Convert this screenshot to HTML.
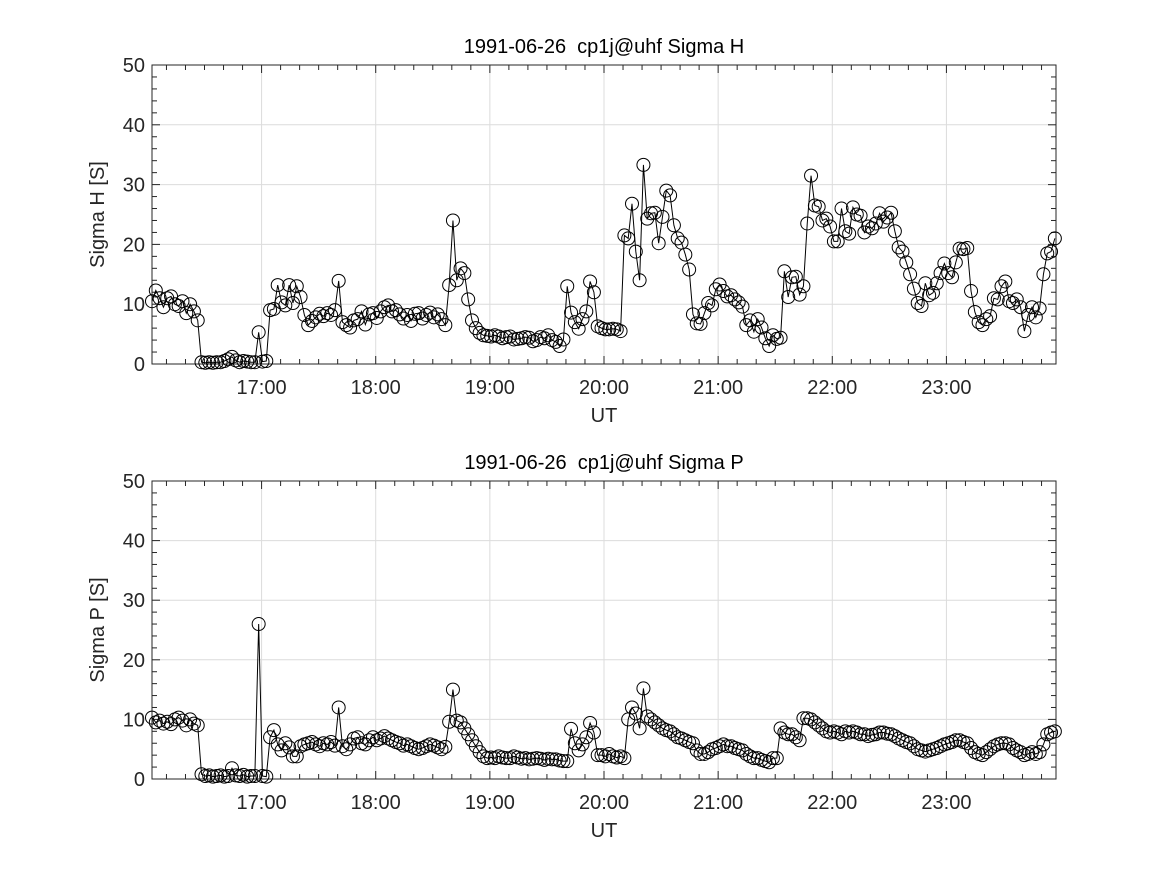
<!DOCTYPE html>
<html><head><meta charset="utf-8"><style>
body{margin:0;background:#fff;}
svg{display:block;font-family:"Liberation Sans",sans-serif;}
</style></head><body>
<svg id="chart" width="1167" height="875"></svg>
<script>
const hValues=[10.5,12.3,11,9.5,11,11.3,10,9.7,10.5,8.5,10,8.8,7.3,0.3,0.2,0.3,0.2,0.3,0.3,0.5,0.8,1.2,0.6,0.3,0.5,0.4,0.3,0.3,
5.3,0.4,0.5,9,9.2,13.2,10.3,9.8,13.2,10.2,13,11.2,8.2,6.5,7.2,7.8,8.4,8,8.5,8.2,9,13.9,7,6.5,6.1,7.3,7.5,8.8,6.6,8.3,
8.5,7.7,8.8,9.5,9.8,8.8,9,8.3,7.6,8.2,7.2,8.4,8.5,7.6,8.2,8.6,7.8,8.3,7.5,6.5,13.2,24,14,16,15.2,10.8,7.3,6,5.2,4.8,4.7,4.6,4.8,4.6,4.3,
4.5,4.6,4.1,4.2,4.3,4.5,4.4,3.8,4,4.5,4.3,4.8,4,3.7,3,4.1,13,8.6,7,5.9,7.5,8.8,13.8,12,6.3,6,5.8,
5.8,5.9,5.8,5.5,21.5,21,26.8,18.8,14,33.3,24.3,25.2,25.3,20.2,24.6,29,28.2,23.2,21,20.3,18.3,15.8,8.3,6.8,6.7,8.5,10.2,9.8,12.5,13.3,
12.2,11.3,11.5,10.8,10.3,9.6,6.5,7.3,5.4,7.5,6.1,4.3,3,4.8,4.2,4.4,15.5,11.2,14.5,14.6,11.6,13,23.5,31.5,26.5,26.3,24,24.3,23,
20.5,20.5,26,22.2,21.8,26.2,25,24.8,22,23,22.7,23.5,25.2,23.8,24.5,25.3,22.2,19.5,18.8,17,15,12.6,10.2,9.7,13.5,11.5,11.9,13.5,15.2,
16.8,15.2,14.5,17,19.3,19.2,19.4,12.2,8.7,7,6.5,7.5,8,11,10.8,13,13.8,10.5,10.2,10.8,9.5,5.5,8.2,9.5,7.8,9.3,15,18.5,18.8,21];
const pValues=[10.3,9.5,9.8,9.3,9.6,9.2,10,10.3,9.8,9,10,9.3,9,0.8,0.5,0.6,0.4,0.5,0.6,0.4,0.5,1.8,0.6,0.5,0.7,0.4,0.5,0.5,
26,0.5,0.4,7,8.2,5.8,4.8,6,5.3,3.8,3.8,5.5,5.8,6,6.2,5.8,5.5,6,5.8,6.2,5.6,12,5.5,5,5.8,6.8,7,6,5.8,6.5,7,
6.5,6.8,7.2,6.8,6.5,6.2,6,5.6,5.8,5.5,5.2,5,5.2,5.5,5.8,5.6,5.3,5.0,5.4,9.6,15,9.8,9.5,8.5,7.5,6.5,5.5,4.5,3.8,3.5,3.6,3.5,3.8,3.6,3.5,
3.5,3.8,3.6,3.4,3.5,3.3,3.4,3.5,3.4,3.2,3.4,3.3,3.3,3.1,3,3,8.4,6,4.8,5.8,7,9.4,7.8,4,4,3.8,4.2,3.8,3.6,
3.8,3.5,10,12,11,8.5,15.2,
10.5,10,9.5,9,8.5,8.2,8,7.5,7,6.8,6.5,6.2,6,4.8,4.2,4.2,4.5,5,5.2,5.5,5.8,5.5,5.5,5.2,5,4.8,4.2,3.8,3.5,3.5,3.2,3,2.8,3.5,3.5,
8.5,7.8,7.5,7.5,7,6.5,10.2,10.2,
10,9.5,9,8.5,8,7.8,8,7.8,7.5,8,7.8,8,7.8,7.5,7.5,7.2,7.4,7.5,7.8,7.8,7.6,7.5,7.2,6.8,6.5,6.2,6,5.5,5,4.8,4.6,4.8,5,5.2,5.5,5.8,6,6.2,6.5,6.5,6.2,6,5.2,4.5,4.2,4,4.5,5,5.5,5.8,6,6,5.8,5.2,4.8,4.5,4,4.2,4.5,4.2,4.5,5.8,7.5,7.8,8];
const startHour=16.04, endHour=23.95;
const xTickHours=[17,18,19,20,21,22,23];
const xTickLabels=["17:00","18:00","19:00","20:00","21:00","22:00","23:00"];
const yTicks=[0,10,20,30,40,50];

const NS="http://www.w3.org/2000/svg";
const svg=document.getElementById('chart');
const X0=152,X1=1056,XMIN=16.04,XMAX=23.96;
function xs(h){return X0+(h-XMIN)/(XMAX-XMIN)*(X1-X0);}
function mk(tag,attrs,parent){const e=document.createElementNS(NS,tag);for(const k in attrs)e.setAttribute(k,attrs[k]);(parent||svg).appendChild(e);return e;}

function panel(top,bottom,vals,title,ylab,key){
  const g=mk('g',{});
  
  
  const ys=v=>bottom-v/50*(bottom-top);
  xTickHours.forEach(h=>mk('line',{x1:xs(h),x2:xs(h),y1:top,y2:bottom,stroke:'#dcdcdc','stroke-width':1},g));
  yTicks.forEach(v=>mk('line',{x1:X0,x2:X1,y1:ys(v),y2:ys(v),stroke:'#dcdcdc','stroke-width':1},g));
  for(let v=0;v<=50;v+=2){const y=ys(v),L=(v%10===0)?8:5;
    mk('line',{x1:X0,x2:X0+L,y1:y,y2:y,stroke:'#262626'},g);
    mk('line',{x1:X1,x2:X1-L,y1:y,y2:y,stroke:'#262626'},g);}
  for(let m=10;m<480;m+=10){const h=16+m/60;const x=xs(h);if(x<X0||x>X1)continue;const L=(m%60===0)?8:5;
    mk('line',{x1:x,x2:x,y1:bottom,y2:bottom-L,stroke:'#262626'},g);
    mk('line',{x1:x,x2:x,y1:top,y2:top+L,stroke:'#262626'},g);}
  mk('rect',{x:X0,y:top,width:X1-X0,height:bottom-top,fill:'none',stroke:'#262626','stroke-width':1},g);
  const n=vals.length,step=(endHour-startHour)/(n-1);
  const pts=vals.map((v,i)=>[xs(startHour+i*step),ys(v)]);
  const line=mk('polyline',{points:pts.map(p=>p.join(',')).join(' '),fill:'none',stroke:'#000','stroke-width':1},g);
  
  
  pts.forEach(p=>{const c=mk('circle',{cx:p[0],cy:p[1],r:6.5,fill:'none',stroke:'#000','stroke-width':1},g);
    
    });
  yTicks.forEach(v=>{const t=mk('text',{x:X0-7,y:ys(v)+7,'text-anchor':'end','font-size':20,fill:'#262626'},g);t.textContent=v;
    
    });
  xTickHours.forEach((h,i)=>{const t=mk('text',{x:xs(h),y:bottom+30,'text-anchor':'middle','font-size':20,fill:'#262626'},g);t.textContent=xTickLabels[i];
    
    });
  const xt=mk('text',{x:(X0+X1)/2,y:bottom+58,'text-anchor':'middle','font-size':20,fill:'#262626'},g);xt.textContent='UT';
  
  
  const yt=mk('text',{x:0,y:0,'text-anchor':'middle','font-size':20,fill:'#262626',transform:`translate(104,${(top+bottom)/2}) rotate(-90)`},g);yt.textContent=ylab;
  
  
  const tt=mk('text',{x:(X0+X1)/2,y:top-12,'text-anchor':'middle','font-size':20,fill:'#000',style:'white-space:pre'},g);tt.textContent=title;
  
  
}
panel(65,364,hValues,'1991-06-26  cp1j@uhf Sigma H','Sigma H [S]','sigma-h');
panel(481,779,pValues,'1991-06-26  cp1j@uhf Sigma P','Sigma P [S]','sigma-p');
</script>
</body></html>
